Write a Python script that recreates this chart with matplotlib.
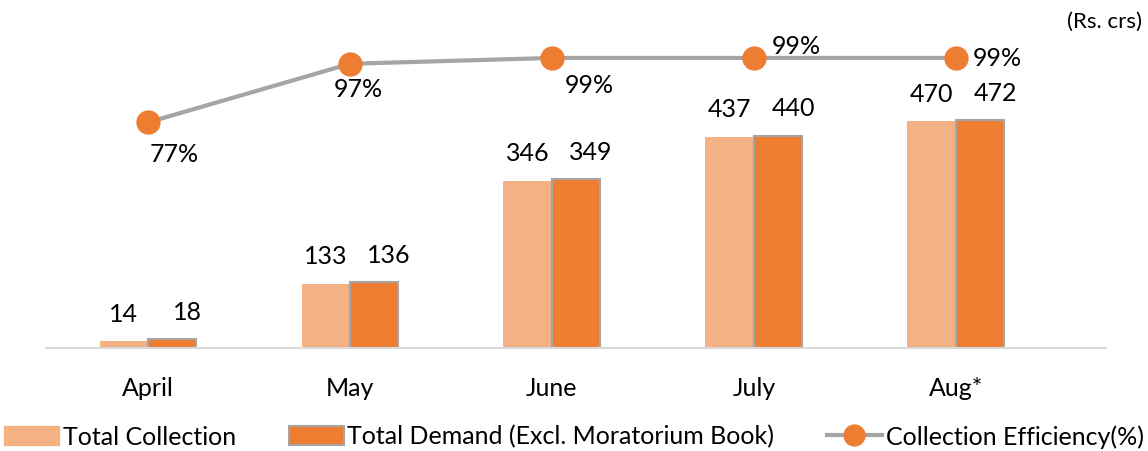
import matplotlib.pyplot as plt
import numpy as np
from matplotlib.lines import Line2D
from matplotlib.patches import Patch

months = ["April", "May", "June", "July", "Aug*"]
total_collection = [14, 133, 346, 437, 470]
total_demand = [18, 136, 349, 440, 472]
efficiency = [77, 97, 99, 99, 99]

# pixel offsets of the percent labels from their points, as in the source
label_offsets = [(26, -31), (8, -25), (37, -27), (42, 12), (41, 0)]

LIGHT = "#F4B183"
DARK = "#ED7D31"
GREY = "#A5A5A5"
FS = 18
PX = 0.72  # points per pixel at dpi 100

plt.rcParams["font.family"] = ["Lato", "DejaVu Sans"]

fig = plt.figure(figsize=(11.48, 4.52), dpi=100)
ax = fig.add_axes([46 / 1148, 1 - 349 / 452, 1060 / 1148, 339 / 452])

x = np.arange(len(months))
width = 0.24
ax.bar(x - width / 2, total_collection, width=width, color=LIGHT, zorder=2)
ax.bar(x + width / 2, total_demand, width=width, color=DARK,
       edgecolor=GREY, linewidth=1.5, zorder=2)

for xi, v in zip(x, total_collection):
    ax.annotate(str(v), (xi - width / 2, v), xytext=(0, 28 * PX), textcoords="offset points",
                ha="center", va="center", fontsize=FS)
for xi, v in zip(x, total_demand):
    ax.annotate(str(v), (xi + width / 2, v), xytext=(15 * PX, 28 * PX), textcoords="offset points",
                ha="center", va="center", fontsize=FS)

ax.set_xlim(-0.505, 4.743)
ax.set_ylim(0, 702)
ax.set_xticks(x)
ax.set_xticklabels(months, fontsize=FS)
ax.tick_params(axis="x", length=0, pad=20)
ax.set_yticks([])
for side in ["top", "right", "left"]:
    ax.spines[side].set_visible(False)
ax.spines["bottom"].set_color("#D9D9D9")
ax.spines["bottom"].set_linewidth(1.5)

ax2 = ax.twinx()
ax2.set_ylim(0, 115.7)
ax2.plot(x, efficiency, color=GREY, linewidth=3, marker="o", markersize=16.5,
         markerfacecolor=DARK, markeredgecolor=DARK, zorder=3)
ax2.set_yticks([])
for side in ["top", "right", "left", "bottom"]:
    ax2.spines[side].set_visible(False)

for xi, v, (dx, dy) in zip(x, efficiency, label_offsets):
    ax2.annotate(f"{v}%", (xi, v), xytext=(dx * PX, dy * PX), textcoords="offset points",
                 ha="center", va="center", fontsize=FS)

fig.text(0.995, 0.952, "(Rs. crs)", ha="right", va="center", fontsize=16)

handles = [
    Patch(facecolor=LIGHT, edgecolor=LIGHT),
    Patch(facecolor=DARK, edgecolor=GREY, linewidth=1.5),
    Line2D([0], [0], color=GREY, linewidth=3, marker="o", markersize=15,
           markerfacecolor=DARK, markeredgecolor=DARK),
]
labels = ["Total Collection", "Total Demand (Excl. Moratorium Book)",
          "Collection Efficiency(%)"]
fig.legend(handles, labels, loc="center", bbox_to_anchor=(0.5, 1 - 437 / 452),
           ncol=3, frameon=False, fontsize=FS, handlelength=2.2, handleheight=0.8,
           handletextpad=0.15, columnspacing=2.1, borderpad=0, borderaxespad=0)

fig.savefig("out.png", dpi=100)
